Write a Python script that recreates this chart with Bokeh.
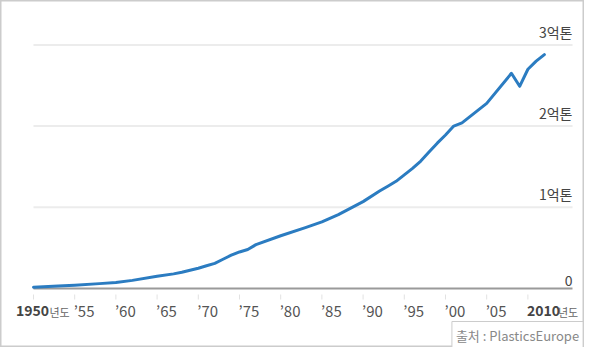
from bokeh.plotting import figure
from bokeh.models import ColumnDataSource, Range1d, Label
from bokeh.core.properties import value
from bokeh.embed import file_html
from bokeh.resources import INLINE

# --- data (global plastics production, million tonnes) ---
years = [1950, 1953, 1955, 1958, 1960, 1962, 1965, 1967, 1968, 1970, 1971, 1972, 1973,
         1974, 1975, 1976, 1977, 1980, 1983, 1985, 1987, 1990, 1992, 1993, 1994, 1995,
         1996, 1997, 1998, 1999, 2000, 2001, 2002, 2005, 2008, 2009, 2010, 2011, 2012]
production = [1.5, 3, 4, 6, 7.5, 10, 15, 18, 20, 25, 28, 31, 36,
              41, 45, 48, 54, 65, 75, 82, 91, 107, 120, 126, 132, 140,
              148, 157, 168, 179, 189, 200, 204, 228, 265, 249, 270, 280, 288]

tick_years = [1950, 1955, 1960, 1965, 1970, 1975, 1980, 1985, 1990, 1995, 2000, 2005, 2010]
tick_labels = ["1950", "\u201955", "\u201960", "\u201965", "\u201970", "\u201975", "\u201980",
               "\u201985", "\u201990", "\u201995", "\u201900", "\u201905", "2010"]
year_suffix = "년도"
grid_values = [0, 100, 200, 300]
grid_labels = ["0", "1억톤", "2억톤", "3억톤"]
source_text = "출처 : PlasticsEurope"

FONT = "Noto Sans CJK KR"
W, H = 584, 347
px_per_year = 8.24
px_per_mt = 0.812
x0 = 1950 - 33 / px_per_year
y0 = -(H - 288) / px_per_mt

p = figure(width=W, height=H, output_backend="svg", toolbar_location=None,
           x_range=Range1d(x0, x0 + W / px_per_year),
           y_range=Range1d(y0, y0 + H / px_per_mt),
           min_border=0, min_border_left=0, min_border_right=0,
           min_border_top=0, min_border_bottom=0)
p.axis.visible = False
p.grid.visible = False
p.outline_line_color = "#cccccc"
p.outline_line_width = 2
p.background_fill_color = "white"
p.border_fill_color = "white"

grid_end = 1950 + (572 - 33) / px_per_year

# gridlines
gsrc = ColumnDataSource(dict(x0=[1950] * 3, x1=[grid_end] * 3, y=grid_values[1:]))
p.segment(x0="x0", y0="y", x1="x1", y1="y", source=gsrc, line_color="#ececec", line_width=2)
# baseline
p.segment(x0=[1950], y0=[grid_values[0]], x1=[grid_end], y1=[grid_values[0]],
          line_color="#9a9a9a", line_width=2)

# tick marks
tick_src = ColumnDataSource(dict(x=tick_years, ya=[-6 / px_per_mt] * len(tick_years),
                                 yb=[-11 / px_per_mt] * len(tick_years)))
p.segment(x0="x", y0="ya", x1="x", y1="yb", source=tick_src, line_color="#e2e2e2", line_width=1)

# line
p.line(years, production, line_color="#2b7cc1", line_width=3, line_join="round", line_cap="round")

# right-side value labels
p.text(x=[grid_end] * 4, y=grid_values, text=grid_labels, text_align="right",
       text_baseline="bottom", y_offset=-3, text_font=value(FONT), text_font_size="14px",
       text_color="#444444")

# x tick labels
label_y = -22 / px_per_mt
mid = ColumnDataSource(dict(x=tick_years[1:-1], y=[label_y] * (len(tick_years) - 2),
                            t=tick_labels[1:-1]))
p.text(x="x", y="y", text="t", source=mid, text_align="left", text_baseline="middle",
       text_font=value(FONT), text_font_size="15px", text_color="#555555", x_offset=-1)
p.text(x=[tick_years[0]], y=[label_y], text=[tick_labels[0]], text_align="center",
       text_baseline="middle", text_font=value(FONT), text_font_size="14px",
       text_font_style="bold", text_color="#444444", x_offset=-1)
p.text(x=[tick_years[0]], y=[label_y], text=[year_suffix], text_align="left",
       text_baseline="middle", text_font=value(FONT), text_font_size="11px",
       text_color="#666666", x_offset=16, y_offset=1)
p.text(x=[tick_years[-1]], y=[label_y], text=[tick_labels[-1]], text_align="left",
       text_baseline="middle", text_font=value(FONT), text_font_size="14px",
       text_font_style="bold", text_color="#444444", x_offset=-1)
p.text(x=[tick_years[-1]], y=[label_y], text=[year_suffix], text_align="left",
       text_baseline="middle", text_font=value(FONT), text_font_size="11px",
       text_color="#666666", x_offset=30, y_offset=1)

# source box
src_label = Label(x=517, y=H - 334.5, x_units="screen", y_units="screen", text=source_text,
                  text_align="center", text_baseline="middle", text_font=FONT,
                  text_font_size="13px", text_color="#888888", padding=4,
                  border_line_color="#cccccc", border_line_width=1,
                  background_fill_color="white")
p.add_layout(src_label)

open("out.html", "w").write(file_html(p, INLINE))
